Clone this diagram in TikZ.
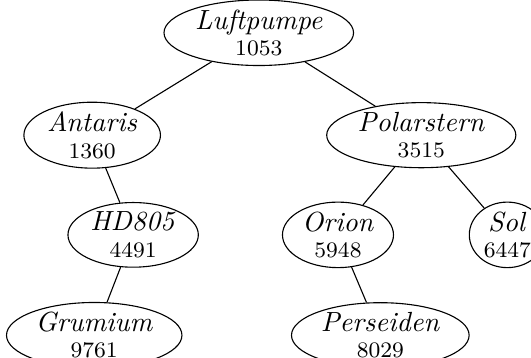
\documentclass[tikz,border=0pt]{standalone}
\usepackage{tikz}
\usetikzlibrary{shapes.geometric}

\begin{document}
\begin{tikzpicture}[x=0.866cm, y=0.866cm]

\tikzstyle star=[ellipse, draw, align=center, inner xsep=1.2pt, inner ysep=0pt]

\useasboundingbox (0,0) rectangle (7.777,-5.243);

\node (l) [star] at (3.79,-0.48) {\textit{Luftpumpe}\\[-2.5pt]{\footnotesize 1053}};
\node (a) [star] at (1.35,-1.98) {\textit{Antaris}\\[-2.5pt]{\footnotesize 1360}};
\node (p) [star] at (6.17,-1.98) {\textit{Polarstern}\\[-2.5pt]{\footnotesize 3515}};
\node (h) [star] at (1.95,-3.44) {\textit{HD805}\\[-2.5pt]{\footnotesize 4491}};
\node (o) [star] at (4.95,-3.44) {\textit{Orion}\\[-2.5pt]{\footnotesize 5948}};
\node (s) [star] at (7.43,-3.44) {\textit{Sol}\\[-2.5pt]{\footnotesize 6447}};
\node (g) [star] at (1.38,-4.91) {\textit{Grumium}\\[-2.5pt]{\footnotesize 9761}};
\node (e) [star] at (5.57,-4.91) {\textit{Perseiden}\\[-2.5pt]{\footnotesize 8029}};

\draw (l) -- (a);
\draw (l) -- (p);
\draw (a) -- (h);
\draw (h) -- (g);
\draw (p) -- (o);
\draw (p) -- (s);
\draw (o) -- (e);

\end{tikzpicture}
\end{document}
